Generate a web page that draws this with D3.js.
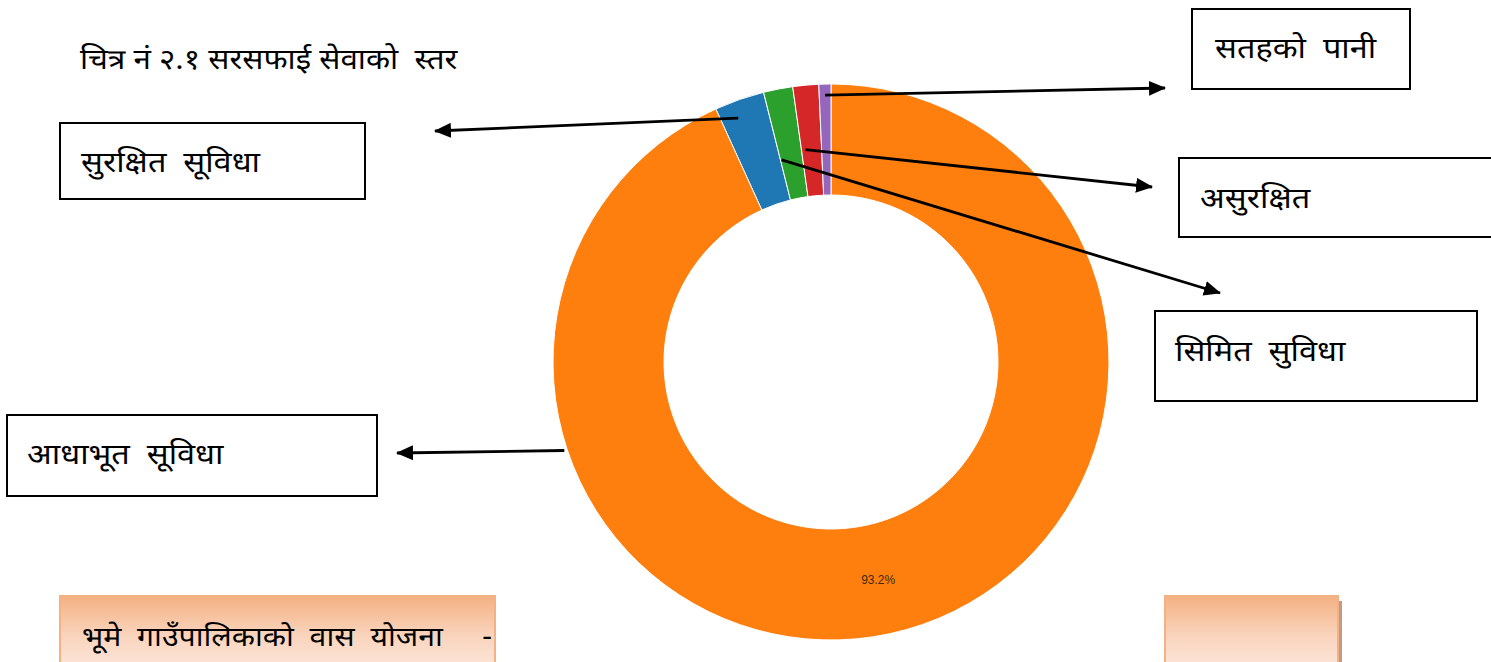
<!DOCTYPE html>
<html>
<head>
<meta charset="utf-8">
<script src="https://cdn.jsdelivr.net/npm/d3@7"></script>
<style>
  body { margin: 0; background: #fff; }
  .lbl { font-family: "Noto Sans Devanagari", "Lohit Devanagari", "Mangal", "Noto Sans", sans-serif; fill: #000; white-space: pre; }
</style>
</head>
<body>
<div id="chart"></div>
<script>
// Data
const categories = ["सुरक्षित  सूविधा", "आधाभूत  सूविधा", "सिमित  सुविधा", "असुरक्षित", "सतहको  पानी"];
const values = [2.9, 93.2, 1.7, 1.5, 0.7];
const titleText = "चित्र नं २.१ सरसफाई सेवाको  स्तर";
const footerText = "भूमे  गाउँपालिकाको  वास  योजना     -";

const W = 1491, H = 662;
const cx = 831, cy = 362;
const rOuter = 278, rInner = 167;

const svg = d3.select("#chart").append("svg")
  .attr("width", W).attr("height", H);

const defs = svg.append("defs");
defs.append("marker")
  .attr("id", "arrow")
  .attr("viewBox", "0 0 17 15")
  .attr("refX", 16).attr("refY", 7.5)
  .attr("markerWidth", 17).attr("markerHeight", 15)
  .attr("markerUnits", "userSpaceOnUse")
  .attr("orient", "auto")
  .append("path")
  .attr("d", "M0,0 L17,7.5 L0,15 z")
  .attr("fill", "#000");

const grad = defs.append("linearGradient")
  .attr("id", "foot").attr("x1", 0).attr("y1", 0).attr("x2", 0).attr("y2", 1);
grad.append("stop").attr("offset", "0%").attr("stop-color", "#f4b183");
grad.append("stop").attr("offset", "55%").attr("stop-color", "#f9d3bb");
grad.append("stop").attr("offset", "100%").attr("stop-color", "#fce5d8");

defs.append("clipPath").attr("id", "footclip")
  .append("rect").attr("x", 60).attr("y", 596).attr("width", 434).attr("height", 70);

const color = d3.scaleOrdinal().domain(categories).range(d3.schemeCategory10);

const data = categories.map((c, i) => ({ category: c, value: values[i] }));
const pie = d3.pie().value(d => d.value);
const arcs = pie(data);
const arc = d3.arc().innerRadius(rInner).outerRadius(rOuter);

const g = svg.append("g").attr("transform", `translate(${cx},${cy})`);

g.selectAll("path.slice")
  .data(arcs)
  .enter()
  .append("path")
  .attr("class", "slice")
  .attr("d", arc)
  .attr("fill", d => color(d.data.category))
  .attr("stroke", "#fff")
  .attr("stroke-width", 1);

// percent label only for the big slice
g.selectAll("text.pct")
  .data(arcs.filter(d => d.endAngle - d.startAngle > 0.5))
  .enter()
  .append("text")
  .attr("class", "pct")
  .attr("transform", d => `translate(${arc.centroid(d)})`)
  .attr("text-anchor", "middle")
  .attr("dy", "0.35em")
  .style("font-family", "Arial, 'Liberation Sans', sans-serif")
  .style("font-size", "12px")
  .attr("fill", "#3a2a10")
  .text(d => d.data.value.toFixed(1) + "%");

// Callout boxes (layout) keyed by category
const callouts = [
  { cat: categories[0], box: [60, 123, 305, 76], tx: 81, ty: 172, r: 261, t: 0.35, end: [435, 131] },
  { cat: categories[1], box: [7, 415, 370, 81], tx: 27, ty: 464, r: 281, t: 0.75, end: [397, 453] },
  { cat: categories[2], box: [1155, 311, 322, 90], tx: 1175, ty: 361, r: 208, t: 0.05, end: [1220, 293] },
  { cat: categories[3], box: [1179, 158, 320, 79], tx: 1200, ty: 208, r: 214, t: 0.2, end: [1152, 187] },
  { cat: categories[4], box: [1192, 9, 218, 80], tx: 1215, ty: 58, r: 267, t: 0.5, end: [1165, 88] }
];

callouts.forEach(c => {
  svg.append("rect")
    .attr("x", c.box[0]).attr("y", c.box[1])
    .attr("width", c.box[2]).attr("height", c.box[3])
    .attr("fill", "#fff").attr("stroke", "#000").attr("stroke-width", 2);
  svg.append("text")
    .attr("class", "lbl")
    .attr("transform", `translate(${c.tx},${c.ty}) scale(1.12,1)`)
    .style("font-size", "29px")
    .text(c.cat);

  const a = arcs.find(d => d.data.category === c.cat);
  const ang = a.startAngle + (a.endAngle - a.startAngle) * c.t;
  const sx = cx + c.r * Math.sin(ang);
  const sy = cy - c.r * Math.cos(ang);
  svg.append("line")
    .attr("x1", sx).attr("y1", sy)
    .attr("x2", c.end[0]).attr("y2", c.end[1])
    .attr("stroke", "#000").attr("stroke-width", 2.8)
    .attr("marker-end", "url(#arrow)");
});

// Title
svg.append("text")
  .attr("class", "lbl")
  .attr("transform", "translate(80,69) scale(1.12,1)")
  .style("font-size", "28px")
  .text(titleText);

// Footer boxes
svg.append("rect")
  .attr("x", 1170).attr("y", 601).attr("width", 172).attr("height", 65)
  .attr("fill", "#c49a80");
svg.append("rect")
  .attr("x", 1165).attr("y", 596).attr("width", 173).attr("height", 70)
  .attr("fill", "url(#foot)").attr("stroke", "#f4b183").attr("stroke-width", 2);
svg.append("rect")
  .attr("x", 60).attr("y", 596).attr("width", 435).attr("height", 70)
  .attr("fill", "url(#foot)").attr("stroke", "#f4b183").attr("stroke-width", 2);
svg.append("g").attr("clip-path", "url(#footclip)")
  .append("text")
  .attr("class", "lbl")
  .attr("transform", "translate(82,646) scale(1.12,1)")
  .style("font-size", "27px")
  .text(footerText);
</script>
</body>
</html>
